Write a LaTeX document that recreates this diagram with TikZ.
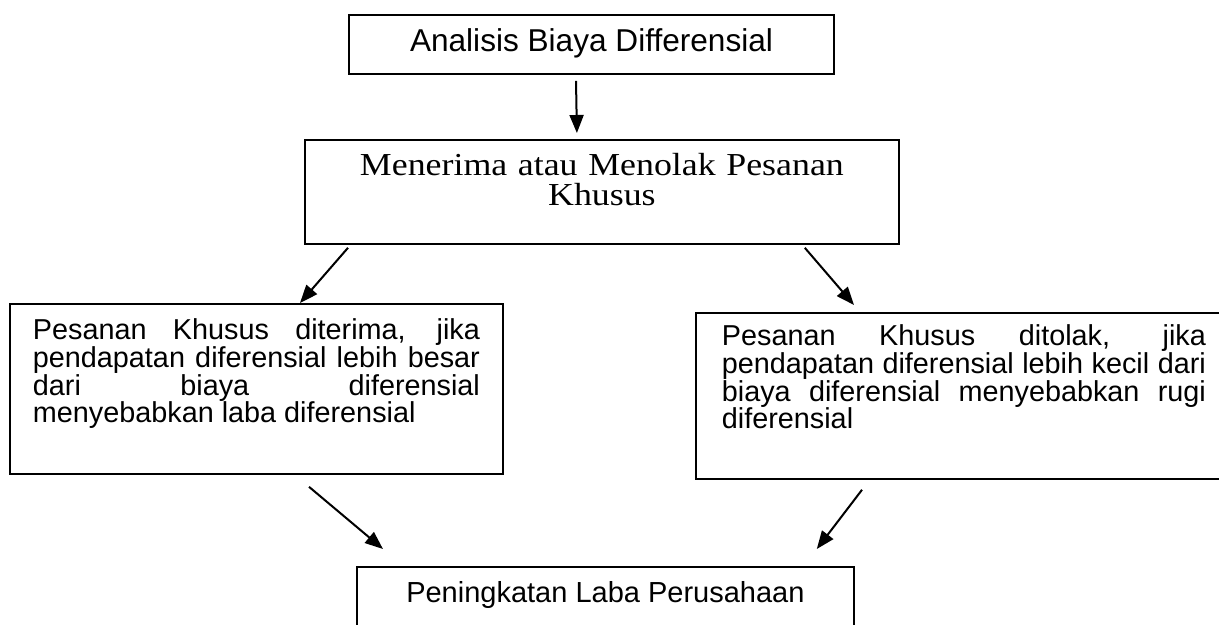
\documentclass[tikz,border=0pt]{standalone}
\usepackage{fontspec}
\newfontfamily\arialfont{Liberation Sans}
\newfontfamily\serifbook[FakeStretch=1.12]{Liberation Serif}
\usetikzlibrary{arrows.meta,calc}
\hyphenpenalty=10000\relax
\exhyphenpenalty=10000\relax
\tolerance=10000\relax
\hbadness=10000\relax
\begin{document}
\begin{tikzpicture}[x=0.5pt,y=-0.5pt,
  boxstyle/.style={draw, line width=0.9pt, inner ysep=0pt},
  arr/.style={line width=1pt, -{Triangle[length=9pt,width=7pt]}},
  parastyle/.style={boxstyle, align=justify,
    font=\arialfont\fontsize{14.4pt}{13.8pt}\selectfont}]
\fill[white] (0,0) rectangle (1219,625);
\clip (0,0) rectangle (1219,625);
% top box
\node[boxstyle, anchor=north, minimum width=242.5pt, text height=18.5pt, text depth=11pt,
  font=\arialfont\fontsize{15.8pt}{18pt}\selectfont] (b1) at (591.5,14) {Analisis Biaya Differensial};
% second box
\node[boxstyle, anchor=north west, inner xsep=0pt, text width=297pt, align=center,
  text height=18pt, text depth=34pt, font=\serifbook\fontsize{16pt}{15pt}\selectfont] (b2) at (304,139)
  {Menerima atau Menolak Pesanan\\Khusus};
% left box
\node[parastyle, anchor=north west, inner xsep=11.5pt, text width=223.5pt,
  text height=18pt, text depth=67pt] (b3) at (9,303)
  {Pesanan Khusus diterima, jika\linebreak pendapatan diferensial lebih besar\linebreak dari biaya diferensial\linebreak menyebabkan laba diferensial};
% right box
\node[parastyle, anchor=north west, inner xsep=13pt, text width=242pt,
  text height=16.5pt, text depth=66.5pt] (b4) at (695,312)
  {Pesanan Khusus ditolak, jika\linebreak pendapatan diferensial lebih kecil dari\linebreak biaya diferensial menyebabkan rugi\linebreak diferensial};
% bottom box
\node[boxstyle, anchor=north west, minimum width=248.5pt, text height=18pt, text depth=30pt,
  font=\arialfont\fontsize{14.5pt}{16pt}\selectfont] (b5) at (356,566) {Peningkatan Laba Perusahaan};
% arrows
\draw[arr] ($(b1.south)+(-15.5,6)$) -- ($(b2.north)+(-25,-6)$);
\draw[arr] ($(b2.south west)+(44,3)$) -- ($(b3.north west)+(291,0)$);
\draw[arr] ($(b2.south east)+(-95,3)$) -- ($(b4.north west)+(159,-7)$);
\draw[arr] ($(b3.south west)+(300,12)$) -- ($(b5.north west)+(27,-17)$);
\draw[arr] ($(b4.south west)+(167,10)$) -- ($(b5.north east)+(-38,-17)$);
\end{tikzpicture}
\end{document}
